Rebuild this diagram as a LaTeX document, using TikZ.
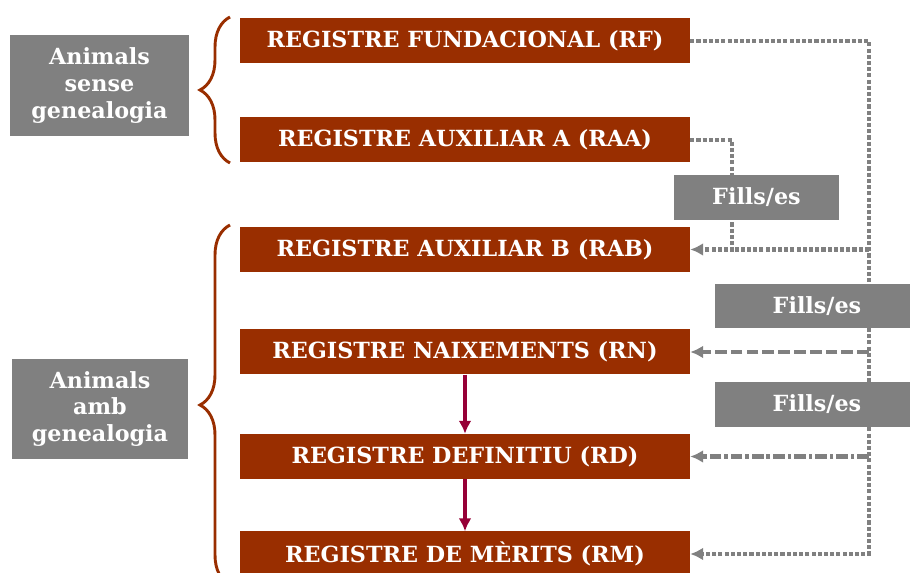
\documentclass[tikz,border=0pt]{standalone}
\usepackage{fontspec}
\setmainfont{DejaVu Serif}
\usetikzlibrary{arrows.meta,positioning,calc,decorations.pathreplacing}
\definecolor{regred}{RGB}{153,46,0}
\definecolor{boxgray}{RGB}{128,128,128}
\definecolor{flowred}{RGB}{150,0,55}
\tikzstyle{reg} = [fill=regred, text=white, minimum width=13.5cm, minimum height=1.35cm, inner sep=0pt, font=\fontsize{19}{22}\selectfont\bfseries]
\tikzstyle{group} = [fill=boxgray, text=white, align=center, inner sep=0pt, font=\fontsize{19}{23}\selectfont\bfseries]
\tikzstyle{fills} = [fill=boxgray, text=white, minimum height=1.35cm, inner sep=0pt, font=\fontsize{19}{22}\selectfont\bfseries]
\tikzstyle{link} = [draw=boxgray, line width=4pt]
\tikzstyle{brace} = [draw=regred, line width=2.5pt, decorate, decoration={brace,amplitude=0.9cm}]
\tikzset{>={Latex[length=11pt,width=11pt]}}

\begin{document}
\begin{tikzpicture}[x=0.03cm,y=-0.03cm]
    \clip (0,0) rectangle (910,573);

    % registres
    \node [reg] (RF) at (465,41) {REGISTRE FUNDACIONAL (RF)};
    \node [reg] (RAA) at (465,140) {REGISTRE AUXILIAR A (RAA)};
    \node [reg] (RAB) at (465,249.5) {REGISTRE AUXILIAR B (RAB)};
    \node [reg] (RN) at (465,352) {REGISTRE NAIXEMENTS (RN)};
    \node [reg] (RD) at (465,456.5) {REGISTRE DEFINITIU (RD)};
    \node [reg] (RM) at (465,554) {REGISTRE DE MÈRITS (RM)};

    % grups
    \node [group, minimum width=5.37cm, minimum height=3.03cm] (sense) at (99.5,85.5) {Animals\\sense\\genealogia};
    \node [group, minimum width=5.28cm, minimum height=3cm] (amb) at (100,409) {Animals\\amb\\genealogia};
    \draw [brace] (230,163) -- (230,17);
    \draw [brace] (230,585) -- (230,225);

    % fletxes
    \draw [->, draw=flowred, line width=3.2pt, >={Latex[length=11pt,width=11pt]}] (RN.south) -- (RD.north);
    \draw [->, draw=flowred, line width=3.2pt, >={Latex[length=11pt,width=11pt]}] (RD.south) -- (RM.north);

    % fills/es
    \coordinate (rail) at (869,0);
    \coordinate (railA) at (732,0);
    \draw [link, ->, dash pattern=on 3.5pt off 1.8pt] (RF.east) -- (RF.east -| rail) -- (RM.east -| rail) -- (RM.east);
    \draw [link, ->, dash pattern=on 3.5pt off 1.8pt] (RAA.east) -- (RAA.east -| railA) -- (RAB.east -| railA) -- (RAB.east);
    \draw [link, dash pattern=on 3.5pt off 1.8pt] (RAB.east -| rail) -- (RAB.east -| railA);
    \draw [link, ->, dash pattern=on 10pt off 3.5pt] (RN.east -| rail) -- (RN.east);
    \draw [link, ->, dash pattern=on 10pt off 2.5pt on 3pt off 2.5pt] (RD.east -| rail) -- (RD.east);

    \node [fills, minimum width=4.95cm] (fA) at (756.5,197.5) {Fills/es};
    \node [fills, minimum width=6.15cm, minimum height=1.32cm] (fB) at (817,306) {Fills/es};
    \node [fills, minimum width=6.15cm, minimum height=1.35cm] (fC) at (817,404.5) {Fills/es};
  \end{tikzpicture}
\end{document}
